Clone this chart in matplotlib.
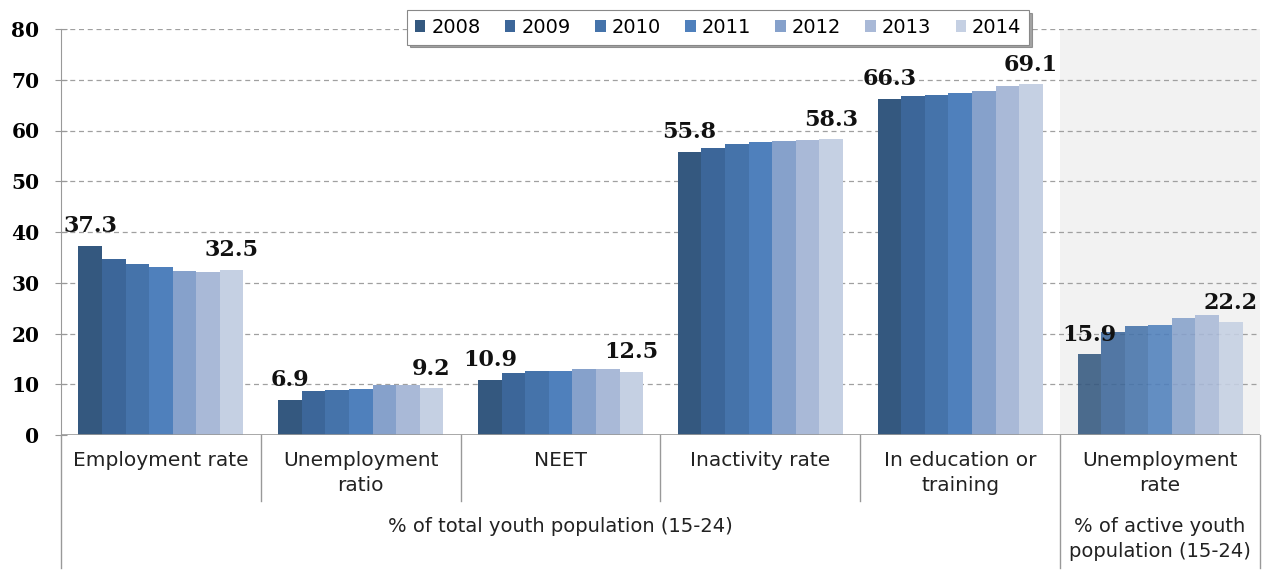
import matplotlib.pyplot as plt
import matplotlib.transforms as mtransforms
import numpy as np

years = ["2008", "2009", "2010", "2011", "2012", "2013", "2014"]
categories = ["Employment rate", "Unemployment\nratio", "NEET", "Inactivity rate",
              "In education or\ntraining", "Unemployment\nrate"]
groups = ["% of total youth population (15-24)", "% of active youth\npopulation (15-24)"]

employment = [37.3, 34.7, 33.6, 33.2, 32.4, 32.1, 32.5]
unemp_ratio = [6.9, 8.7, 8.9, 9.1, 9.8, 9.8, 9.2]
neet = [10.9, 12.3, 12.7, 12.7, 13.1, 13.1, 12.5]
inactivity = [55.8, 56.6, 57.3, 57.7, 57.9, 58.1, 58.3]
education = [66.3, 66.7, 67.0, 67.3, 67.7, 68.8, 69.1]
unemp_rate = [15.9, 20.2, 21.4, 21.7, 23.1, 23.7, 22.2]

data = np.array([employment, unemp_ratio, neet, inactivity, education, unemp_rate])

colors = ["#34587f", "#3c6699", "#4573aa", "#4f80bc", "#86a1cb", "#a9b9d7", "#c5d0e3"]

fig = plt.figure(figsize=(12.68, 5.70), dpi=100)
ax = fig.add_axes([61/1268, 1 - 435/570, 1199/1268, 406/570])

# shaded background behind the last group
ax.axvspan(4.5, 5.5, color="#f2f2f2", zorder=0, lw=0)

x = np.arange(len(categories))
w = 0.118
for j, yr in enumerate(years):
    ax.bar(x[:5] + (j - 3) * w, data[:5, j], width=w, color=colors[j], label=yr,
           zorder=2, lw=0)
    # last group looks a bit washed out in the original
    ax.bar(x[5] + (j - 3) * w, data[5, j], width=w, color=colors[j], alpha=0.88,
           zorder=2, lw=0)

# value labels for first and last year
for i in range(len(categories)):
    for j in (0, 6):
        ax.text(x[i] + (j - 3) * w, data[i, j] + 1.7, f"{data[i, j]:.1f}", ha="center",
                va="bottom", fontsize=16, fontweight="bold", family="DejaVu Serif",
                color="#111111", zorder=3)

ax.set_xlim(-0.5, 5.5)
ax.set_ylim(0, 80)
ax.set_yticks(range(0, 81, 10))
ax.set_yticklabels([str(v) for v in range(0, 81, 10)], fontsize=14.5, fontweight="bold",
                   family="DejaVu Serif")
ax.set_xticks([])
for v in range(10, 81, 10):
    ax.axhline(v, color="#a0a0a0", ls=(0, (4, 3)), lw=0.9, zorder=1)
ax.axhline(0, color="#999999", lw=1.2, zorder=3)
for s in ["top", "right", "bottom"]:
    ax.spines[s].set_visible(False)
ax.spines["left"].set_color("#999999")
ax.tick_params(axis="y", length=9, direction="inout", color="#999999", pad=11)

# category and group labels below the axis
trans = mtransforms.blended_transform_factory(ax.transData, ax.transAxes)
px = 1 / 406.0
for i, c in enumerate(categories):
    ax.text(x[i], -16 * px, c, transform=trans, ha="center", va="top", fontsize=14.5,
            color="#222222", linespacing=1.4)
for b in [0.5, 1.5, 2.5, 3.5]:
    ax.plot([b, b], [0, -66 * px], transform=trans, color="#999999", lw=1, clip_on=False)
for b in [4.5, 5.5]:
    ax.plot([b, b], [0, -133 * px], transform=trans, color="#999999", lw=1, clip_on=False)
ax.plot([-0.5, -0.5], [0, -133 * px], transform=trans, color="#999999", lw=1, clip_on=False)
ax.text(2.0, -82 * px, groups[0], transform=trans, ha="center", va="top", fontsize=14,
        color="#222222")
ax.text(5.0, -82 * px, groups[1], transform=trans, ha="center", va="top", fontsize=14,
        color="#222222", linespacing=1.4)

leg = ax.legend(loc="center", bbox_to_anchor=(0.548, 1.004), ncol=7, fontsize=14,
                frameon=True, fancybox=False, shadow=True, handlelength=0.55,
                handleheight=0.55, handletextpad=0.3, columnspacing=1.25,
                borderpad=0.4, edgecolor="#888888", framealpha=1)
leg.get_frame().set_linewidth(0.8)
leg.set_zorder(5)

plt.savefig("out.png", dpi=100)
